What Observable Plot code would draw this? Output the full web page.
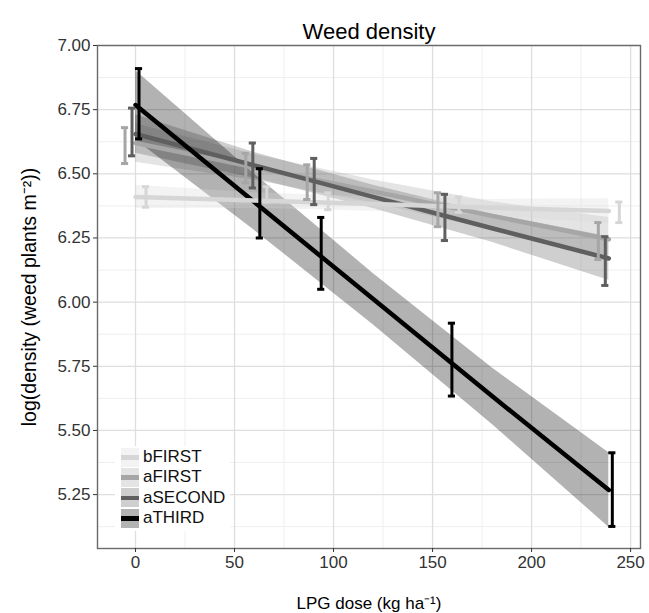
<!DOCTYPE html>
<html><head><meta charset="utf-8">
<script src="https://cdn.jsdelivr.net/npm/d3@7"></script>
<script src="https://cdn.jsdelivr.net/npm/@observablehq/plot@0.6"></script>
<style>
body{margin:0;background:#fff;}
#wrap{position:relative;width:649px;height:613px;font-family:"Liberation Sans",Arial,sans-serif;}
#legend{position:absolute;left:115px;top:446px;background:#fff;padding:1px 5px 3px 6px;}
.row{display:flex;align-items:center;height:20.3px;}
.key{width:18px;height:19px;position:relative;margin-right:4px;}
.key i{position:absolute;left:0;right:0;top:7.5px;height:4.5px;}
.lab{font-size:17px;color:#111;line-height:20px;}
</style></head><body><div id="wrap"><div id="legend"></div></div>
<script>
// ---- data ----
const series = ["aFIRST", "aSECOND", "aTHIRD", "bFIRST"];
const legendOrder = ["bFIRST", "aFIRST", "aSECOND", "aTHIRD"];
const seriesColors = ["#a6a6a6", "#5f5f5f", "#000000", "#d6d6d6"];

// error bars (observed means with intervals)
const barDose = [0, 61, 92, 158, 239];
const barLoAFIRST  = [6.54, 6.465, 6.40, 6.294, 6.166];
const barHiAFIRST  = [6.68, 6.58, 6.535, 6.426, 6.31];
const barLoASECOND = [6.57, 6.445, 6.38, 6.24, 6.065];
const barHiASECOND = [6.756, 6.62, 6.56, 6.42, 6.255];
const barLoATHIRD  = [6.636, 6.25, 6.05, 5.634, 5.126];
const barHiATHIRD  = [6.91, 6.52, 6.33, 5.918, 5.413];
const barLoBFIRST  = [6.37, 6.39, 6.36, 6.35, 6.31];
const barHiBFIRST  = [6.45, 6.45, 6.426, 6.41, 6.39];

// fitted lines with confidence ribbons
const fitDose = [0, 60, 120, 180, 239];
const fitAFIRST  = [6.620, 6.525, 6.431, 6.336, 6.245];
const ciLoAFIRST = [6.545, 6.475, 6.386, 6.281, 6.160];
const ciHiAFIRST = [6.695, 6.575, 6.476, 6.391, 6.330];
const fitASECOND  = [6.655, 6.533, 6.410, 6.288, 6.170];
const ciLoASECOND = [6.580, 6.483, 6.365, 6.233, 6.085];
const ciHiASECOND = [6.730, 6.583, 6.455, 6.343, 6.255];
const fitATHIRD  = [6.768, 6.390, 6.012, 5.634, 5.268];
const ciLoATHIRD = [6.633, 6.280, 5.912, 5.524, 5.123];
const ciHiATHIRD = [6.903, 6.500, 6.112, 5.744, 5.413];
const fitBFIRST  = [6.410, 6.396, 6.382, 6.368, 6.355];
const ciLoBFIRST = [6.365, 6.366, 6.354, 6.336, 6.307];
const ciHiBFIRST = [6.455, 6.426, 6.410, 6.400, 6.403];

// ticks
const xTicks = [0, 50, 100, 150, 200, 250];
const xMinor = [25, 75, 125, 175, 225];
const yTicks = [5.25, 5.50, 5.75, 6.00, 6.25, 6.50, 6.75, 7.00];
const yMinor = [5.125, 5.375, 5.625, 5.875, 6.125, 6.375, 6.625, 6.875];

const titleText = "Weed density";
const xLabel = "LPG dose (kg ha\u207B\u00B9)";
const yLabel = "log(density (weed plants m\u207B\u00B2))";

// ---- build tables ----
const barSets = {aFIRST: [barLoAFIRST, barHiAFIRST], aSECOND: [barLoASECOND, barHiASECOND],
  aTHIRD: [barLoATHIRD, barHiATHIRD], bFIRST: [barLoBFIRST, barHiBFIRST]};
const fitSets = {aFIRST: [fitAFIRST, ciLoAFIRST, ciHiAFIRST], aSECOND: [fitASECOND, ciLoASECOND, ciHiASECOND],
  aTHIRD: [fitATHIRD, ciLoATHIRD, ciHiATHIRD], bFIRST: [fitBFIRST, ciLoBFIRST, ciHiBFIRST]};
const bars = [], fits = [];
for (const s of series) {
  barDose.forEach((d, i) => bars.push({series: s, dose: d, lo: barSets[s][0][i], hi: barSets[s][1][i]}));
  fitDose.forEach((d, i) => fits.push({series: s, dose: d, fit: fitSets[s][0][i], lo: fitSets[s][1][i], hi: fitSets[s][2][i]}));
}
const dodgePx = {aFIRST: -10.5, aSECOND: -3.5, aTHIRD: 3.5, bFIRST: 10.5};
const capHalf = 1.8;

const errMarks = [];
for (const s of series) {
  const rows = bars.filter(b => b.series === s);
  const o = {stroke: "series", strokeWidth: 3, dx: dodgePx[s]};
  errMarks.push(Plot.ruleX(rows, {x: "dose", y1: "lo", y2: "hi", ...o}));
  errMarks.push(Plot.ruleY(rows, {y: "lo", x1: d => d.dose - capHalf, x2: d => d.dose + capHalf, ...o}));
  errMarks.push(Plot.ruleY(rows, {y: "hi", x1: d => d.dose - capHalf, x2: d => d.dose + capHalf, ...o}));
}

const chart = Plot.plot({
  width: 649, height: 613,
  marginLeft: 97, marginRight: 9, marginTop: 45, marginBottom: 65,
  style: {fontFamily: "Liberation Sans, Arial, sans-serif", fontSize: "16px", color: "#333", background: "#fff"},
  x: {domain: [-19.2, 255]},
  y: {domain: [5.04, 7.0]},
  color: {domain: series, range: seriesColors},
  marks: [
    Plot.ruleX(xMinor, {stroke: "#efefef", strokeWidth: 1}),
    Plot.ruleY(yMinor, {stroke: "#efefef", strokeWidth: 1}),
    Plot.ruleX(xTicks, {stroke: "#dedede", strokeWidth: 1.3}),
    Plot.ruleY(yTicks, {stroke: "#dedede", strokeWidth: 1.3}),
    Plot.areaY(fits, {x: "dose", y1: "lo", y2: "hi", z: "series", fill: "series", fillOpacity: 0.3}),
    Plot.line(fits, {x: "dose", y: "fit", z: "series", stroke: "series", strokeWidth: 4.5}),
    ...errMarks,
    Plot.frame({stroke: "#6a6a6a", strokeWidth: 1.4}),
    Plot.axisX(xTicks, {tickSize: 4, tickPadding: 3, label: null, fontSize: 17}),
    Plot.axisY(yTicks, {tickSize: 4, tickPadding: 3, label: null, fontSize: 17, tickFormat: d3.format(".2f")}),
    Plot.text([titleText], {frameAnchor: "top", lineAnchor: "middle", dy: -14, fontSize: 22, fill: "#000"}),
    Plot.text([xLabel], {frameAnchor: "bottom", lineAnchor: "middle", dy: 55, fontSize: 17, fill: "#000"}),
    Plot.text([yLabel], {frameAnchor: "left", textAnchor: "middle", lineAnchor: "middle", dx: -68, rotate: -90, fontSize: 19.5, fill: "#000"})
  ]
});
const wrap = document.getElementById("wrap");
wrap.insertBefore(chart, wrap.firstChild);

// legend (HTML overlay)
const leg = document.getElementById("legend");
for (const s of legendOrder) {
  const c = seriesColors[series.indexOf(s)];
  const rgb = d3.rgb(c);
  const bg = d3.rgb(255 - 0.3 * (255 - rgb.r), 255 - 0.3 * (255 - rgb.g), 255 - 0.3 * (255 - rgb.b));
  const row = document.createElement("div"); row.className = "row";
  row.innerHTML = `<span class="key" style="background:${bg}"><i style="background:${c}"></i></span><span class="lab">${s}</span>`;
  leg.appendChild(row);
}
</script></body></html>
